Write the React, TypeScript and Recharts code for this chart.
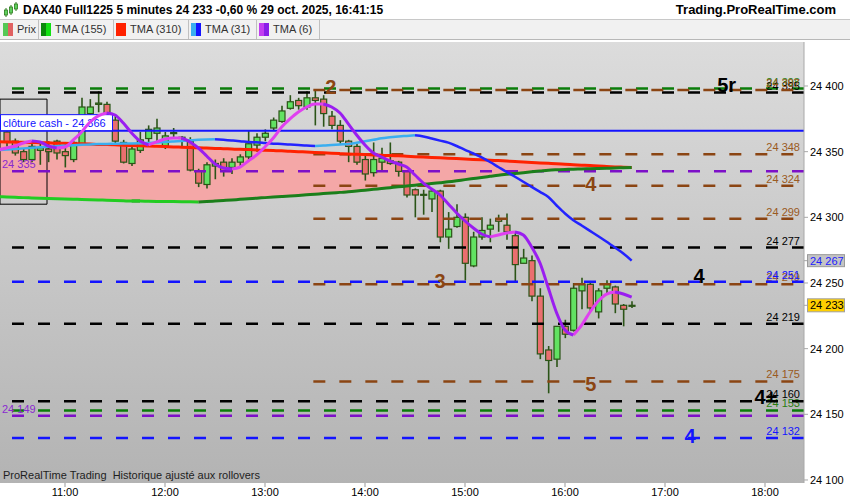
import React from 'react';
import {
  ComposedChart,
  Bar,
  Line,
  Area,
  XAxis,
  YAxis,
  ReferenceLine,
  ReferenceArea,
  ReferenceDot,
} from 'recharts';

const FONT = '"Liberation Sans", Arial, sans-serif';

// bar index 0 is the 10:25 candle; the row at -1 only carries the averages (left edge)
const firstIndex = -1;
const firstBar = '10:25';

const opens = [null,
  24365, 24358, 24350, 24344, 24351, 24352, 24358, 24350, 24344, 24356,
  24379, 24386, 24386, 24374, 24357, 24341, 24351, 24360, 24364, 24354,
  24364, 24360, 24358, 24335, 24325, 24339, 24342, 24338, 24342, 24346,
  24355, 24361, 24368, 24373, 24383, 24389, 24384, 24391, 24390, 24377,
  24370, 24358, 24354, 24344, 24334, 24342, 24343, 24342, 24335, 24321,
  24317, 24314, 24320, 24285, 24293, 24300, 24263, 24285, 24291, 24299,
  24294, 24286, 24265, 24267, 24240, 24199, 24192, 24217, 24214, 24244,
  24249, 24228, 24246, 24247, 24233, 24233];
const highs = [null,
  24368, 24360, 24352, 24356, 24356, 24358, 24359, 24356, 24358, 24391,
  24390, 24396, 24388, 24377, 24359, 24355, 24365, 24370, 24375, 24365,
  24368, 24362, 24361, 24337, 24342, 24344, 24345, 24345, 24348, 24366,
  24364, 24367, 24376, 24385, 24393, 24391, 24396, 24397, 24393, 24381,
  24374, 24359, 24356, 24348, 24357, 24353, 24357, 24343, 24336, 24322,
  24321, 24322, 24321, 24304, 24310, 24303, 24289, 24300, 24299, 24302,
  24303, 24288, 24276, 24271, 24246, 24202, 24217, 24222, 24250, 24254,
  24250, 24246, 24252, 24248, 24234, 24236];
const lows = [null,
  24354, 24347, 24342, 24342, 24340, 24342, 24344, 24338, 24342, 24355,
  24377, 24380, 24372, 24356, 24341, 24339, 24349, 24357, 24358, 24352,
  24360, 24353, 24335, 24323, 24322, 24329, 24331, 24333, 24338, 24344,
  24350, 24358, 24366, 24372, 24382, 24382, 24382, 24370, 24369, 24367,
  24356, 24342, 24340, 24328, 24331, 24335, 24340, 24331, 24315, 24300,
  24302, 24304, 24281, 24276, 24292, 24252, 24262, 24283, 24281, 24289,
  24283, 24250, 24265, 24236, 24192, 24166, 24186, 24208, 24213, 24230,
  24228, 24223, 24242, 24227, 24217, 24231];
const closes = [null,
  24357, 24349, 24344, 24354, 24353, 24350, 24349, 24347, 24357, 24384,
  24384, 24387, 24375, 24358, 24342, 24352, 24359, 24367, 24368, 24362,
  24364.5, 24361, 24336, 24326, 24340, 24341, 24335, 24342, 24346, 24356,
  24361, 24364, 24374, 24381, 24388, 24385, 24391, 24389, 24379, 24370,
  24358, 24354, 24342, 24333, 24344, 24345, 24341, 24335, 24317, 24317,
  24317.5, 24320, 24285, 24291, 24300, 24265, 24285, 24290, 24294, 24297,
  24289, 24264, 24269, 24240, 24196, 24191, 24217, 24211, 24246, 24249,
  24231, 24244, 24249, 24234, 24230, 24233];

const tma6 = [24351.5,
  24352.8, 24354.3, 24356.6, 24358.1, 24357.4, 24354.3, 24352.8, 24353.6, 24358.9, 24365,
  24372.6, 24377.2, 24379.4, 24377.9, 24371.8, 24364.2, 24358.1, 24355.1, 24357.4, 24359.6,
  24360.4, 24360.4, 24357.4, 24352.8, 24346.7, 24340.6, 24337.6, 24336.8, 24338.3, 24342.9,
  24347.5, 24353.6, 24360.4, 24368.8, 24374.9, 24380.2, 24384, 24386.3, 24386.3, 24384,
  24379.4, 24371.1, 24362.7, 24355.1, 24349, 24345.9, 24342.9, 24340.6, 24338.3, 24332.2,
  24326.1, 24321.6, 24317, 24310.2, 24303.3, 24297.2, 24291.9, 24287.3, 24285.1, 24286.6,
  24288.1, 24288.9, 24286.6, 24277.4, 24265.2, 24246.2, 24227.2, 24214.2, 24210.4, 24218,
  24227.9, 24236.3, 24241.6, 24243.1, 24241.6, 24239.3];
const tma31 = [24351.2,
  24351.6, 24352, 24352.5, 24352.9, 24353.3, 24353.7, 24354.2, 24354.5, 24354.8, 24355.2,
  24355.5, 24355.8, 24355.9, 24356.1, 24356.2, 24356.3, 24356.4, 24356.6, 24356.9, 24357.4,
  24357.8, 24358.2, 24358.6, 24359, 24359.3, 24359.5, 24359, 24358.5, 24358, 24357.4,
  24357.1, 24356.6, 24356.1, 24355.8, 24355.4, 24355, 24354.6, 24354.4, 24354.6, 24355.1,
  24355.5, 24355.8, 24356.8, 24357.9, 24359, 24360.2, 24360.9, 24361.5, 24362, 24362.5,
  24361.6, 24360, 24358.4, 24356.9, 24354.3, 24351.4, 24348.6, 24345.6, 24342.1, 24338.3,
  24334.5, 24330.9, 24327.1, 24323.2, 24319.4, 24315.5, 24309, 24302.9, 24297.8, 24293.8,
  24289.7, 24285.6, 24281.4, 24277, 24272.5, 24267];
const tma310 = [24357.5,
  24357.4, 24357.3, 24357.1, 24357, 24356.8, 24356.7, 24356.4, 24356.4, 24356.2, 24356,
  24355.8, 24355.5, 24355.4, 24355.2, 24354.9, 24354.7, 24354.5, 24354.3, 24354.1, 24353.9,
  24353.6, 24353.4, 24353.2, 24352.9, 24352.7, 24352.5, 24352.3, 24352, 24351.8, 24351.6,
  24351.3, 24351, 24350.8, 24350.6, 24350.3, 24350, 24349.7, 24349.4, 24349.1, 24348.8,
  24348.5, 24348.2, 24348, 24347.8, 24347.5, 24347.2, 24347, 24346.8, 24346.5, 24346.2,
  24345.9, 24345.6, 24345.3, 24345, 24344.7, 24344.4, 24344.1, 24343.8, 24343.5, 24343.2,
  24342.8, 24342.5, 24342.1, 24341.8, 24341.4, 24341.1, 24340.8, 24340.4, 24340.1, 24339.7,
  24339.4, 24339, 24338.7, 24338.4, 24338.2, 24337.9];
const tma155 = [24315.7,
  24315.5, 24315.3, 24315, 24314.8, 24314.6, 24314.4, 24314.2, 24314, 24313.8, 24313.6,
  24313.4, 24313.2, 24313, 24312.8, 24312.6, 24312.4, 24312.4, 24312.2, 24312.1, 24312.1,
  24312, 24311.9, 24311.8, 24311.7, 24312, 24312.4, 24312.8, 24313.2, 24313.7, 24314.1,
  24314.6, 24315, 24315.4, 24315.8, 24316.2, 24316.7, 24317.2, 24317.6, 24318.1, 24318.5,
  24319, 24319.4, 24320, 24320.7, 24321.3, 24322, 24322.6, 24323.2, 24323.9, 24324.5,
  24325.1, 24325.8, 24326.4, 24327, 24327.8, 24328.7, 24329.5, 24330.3, 24331.2, 24332.1,
  24332.8, 24333.4, 24334, 24334.7, 24335.3, 24335.9, 24336.2, 24336.4, 24336.7, 24336.8,
  24337, 24337.1, 24337.3, 24337.6, 24337.7, 24337.9];

// horizontal levels drawn on the chart
const greenLevels = [24398, 24153];
const blackLevels = [24395, 24277, 24219, 24160];
const brownLevels = [24397, 24348, 24324, 24299, 24249, 24175];
const blueLevels = [24251, 24132];
const purpleLevels = [24335, 24149];
const cashClose = 24366;

// wave counts written on the chart
const waveText = ['2', '3', '4', '5', '4', '5r', '4+', '4'];
const waveKind = ['brown', 'brown', 'brown', 'brown', 'black', 'black', 'black', 'blue'];
const waveBar = [38.9, 52, 70.1, 70.1, 83.1, 86.4, 91.1, 82];
const wavePrice = [24399, 24251.5, 24325.4, 24173, 24255.5, 24400.8, 24163, 24133.5];

const hourTicks = ['11:00', '12:00', '13:00', '14:00', '15:00', '16:00', '17:00', '18:00'];
const priceTicks = [24100, 24150, 24200, 24250, 24300, 24350, 24400];

const toMin = (s: string) => {
  const [h, m] = s.split(':').map(Number);
  return h * 60 + m;
};
const hourIdx = hourTicks.map((t) => (toMin(t) - toMin(firstBar)) / 5);

const fmt = (v: number) => {
  const s = String(Math.round(v));
  return s.slice(0, -3) + ' ' + s.slice(-3);
};

// split a series in rising / falling pieces for the two-colour averages
function splitTrend(vals: number[]) {
  const up: (number | null)[] = vals.map(() => null);
  const dn: (number | null)[] = vals.map(() => null);
  for (let k = 0; k < vals.length - 1; k++) {
    const t = vals[k + 1] >= vals[k] ? up : dn;
    t[k] = vals[k];
    t[k + 1] = vals[k + 1];
  }
  return [up, dn];
}

const [t6Up, t6Dn] = splitTrend(tma6);
const [t31Up, t31Dn] = splitTrend(tma31);
const [t155Up, t155Dn] = splitTrend(tma155);

const rows = tma6.map((_, k) => ({
  i: firstIndex + k,
  open: opens[k],
  high: highs[k],
  low: lows[k],
  close: closes[k],
  tma310: tma310[k],
  band: [tma155[k], tma310[k]],
  t6Up: t6Up[k],
  t6Dn: t6Dn[k],
  t31Up: t31Up[k],
  t31Dn: t31Dn[k],
  t155Up: t155Up[k],
  t155Dn: t155Dn[k],
}));

const lastClose = closes[closes.length - 1] as number;
const lastTma31 = Math.round(tma31[tma31.length - 1]);

const X_DOMAIN: [number, number] = [-0.8, 95.68];
const Y_DOMAIN: [number, number] = [24097.7, 24433.5];
const brownStart = 36.8;

const BROWN = '#8b4513';
const WICK = '#2b5417';

function Candle(props: any) {
  const { x, y, width, height, payload } = props;
  if (!payload || payload.high == null) return null;
  const { open, close, high, low } = payload;
  const k = high - low > 0 ? height / (high - low) : 0;
  const yOf = (v: number) => y + (high - v) * k;
  const cx = x + width / 2;
  const top = yOf(Math.max(open, close));
  const bot = yOf(Math.min(open, close));
  const up = close >= open;
  return (
    <g>
      <line x1={cx} x2={cx} y1={y} y2={y + height} stroke={WICK} strokeWidth={1.6} />
      <rect
        x={cx - 3}
        y={top}
        width={6}
        height={Math.max(bot - top, 1)}
        fill={up ? '#62e262' : '#ea6f6f'}
        stroke={WICK}
        strokeWidth={1.2}
      />
    </g>
  );
}

function LevelTag(props: any) {
  const vb = props.viewBox;
  if (!vb) return null;
  if (props.tagSide === 'left') {
    return (
      <text x={vb.x + 2} y={vb.y - 3} fill={props.tagColor} fontSize={11} fontFamily={FONT}>
        {props.tagText}
      </text>
    );
  }
  return (
    <text x={vb.x + vb.width - 4} y={vb.y - 3} fill={props.tagColor} fontSize={11} textAnchor="end" fontFamily={FONT}>
      {props.tagText}
    </text>
  );
}

function CashTag(props: any) {
  const vb = props.viewBox;
  if (!vb) return null;
  return (
    <g>
      <rect x={0.5} y={vb.y - 16} width={112} height={16} fill="#fff" stroke="#1414ff" />
      <text x={3} y={vb.y - 4} fill="#1414ff" fontSize={11} fontFamily={FONT}>
        {'clôture cash -  ' + fmt(cashClose)}
      </text>
    </g>
  );
}

function WaveMark(props: any) {
  const vb = props.viewBox;
  if (!vb) return null;
  return (
    <text
      x={vb.x + vb.width / 2}
      y={vb.y + vb.height / 2 + 7}
      textAnchor="middle"
      fontSize={20}
      fontWeight="bold"
      fill={props.markColor}
      fontFamily={FONT}
    >
      {props.markText}
    </text>
  );
}

function PriceTick(props: any) {
  const { x, y, payload } = props;
  const v = payload.value;
  if (v === lastClose) {
    return (
      <g>
        <rect x={x - 2.5} y={y - 6.5} width={37} height={13} fill="#ffd000" stroke="#a0a0a0" />
        <text x={x} y={y + 4} fontSize={11} fill="#000" fontFamily={FONT}>{fmt(v)}</text>
      </g>
    );
  }
  if (v === lastTma31) {
    return (
      <g>
        <rect x={x - 2.5} y={y - 6} width={37} height={12} fill="#c4c4c4" stroke="#9a9a9a" />
        <text x={x} y={y + 4} fontSize={11} fill="#2020ff" fontFamily={FONT}>{fmt(v)}</text>
      </g>
    );
  }
  return (
    <text x={x} y={y + 4} fontSize={11} fill="#000" fontFamily={FONT}>{fmt(v)}</text>
  );
}

const legendItems = [
  { name: 'Prix', left: 0, colors: ['#55c855', '#e06262'] },
  { name: 'TMA (155)', left: 38, colors: ['#0a870a', '#12e012'] },
  { name: 'TMA (310)', left: 113, colors: ['#ff2200', '#ff2200'] },
  { name: 'TMA (31)', left: 188, colors: ['#3aaef0', '#1414ff'] },
  { name: 'TMA (6)', left: 256, colors: ['#c23ef0', '#8a1ee8'] },
];

function Header() {
  return (
    <>
      <div style={{ position: 'absolute', left: 0, top: 0, width: 850, height: 19, borderBottom: '1px solid #c8c8c8' }}>
        <svg width={16} height={16} style={{ position: 'absolute', left: 3, top: 2 }}>
          <line x1={3} x2={3} y1={6} y2={15} stroke="#2b7a1a" />
          <rect x={1.5} y={8} width={3} height={5} fill="#5fd05f" stroke="#2b7a1a" strokeWidth={0.8} />
          <line x1={8} x2={8} y1={3} y2={13} stroke="#2b7a1a" />
          <rect x={6.5} y={5} width={3} height={6} fill="#5fd05f" stroke="#2b7a1a" strokeWidth={0.8} />
          <line x1={13} x2={13} y1={0} y2={9} stroke="#2b7a1a" />
          <rect x={11.5} y={2} width={3} height={5} fill="#5fd05f" stroke="#2b7a1a" strokeWidth={0.8} />
        </svg>
        <span style={{ position: 'absolute', left: 23, top: 3, fontSize: 12, fontWeight: 'bold', color: '#000', whiteSpace: 'nowrap' }}>
          DAX40 Full1225 5 minutes 24 233 -0,60 % 29 oct. 2025, 16:41:15
        </span>
        <span style={{ position: 'absolute', right: 14, top: 2, fontSize: 13, fontWeight: 'bold', color: '#000' }}>
          Trading.ProRealTime.com
        </span>
      </div>
      <div style={{ position: 'absolute', left: 0, top: 20, width: 850, height: 19, background: '#f1f1f1', borderBottom: '1px solid #b8b8b8' }}>
        {legendItems.map((it, k) => {
          const right = k < legendItems.length - 1 ? legendItems[k + 1].left : it.left + 63;
          return (
            <div key={it.name} style={{ position: 'absolute', left: it.left, top: 0, width: right - it.left, height: 19, borderRight: '1px solid #c0c0c0' }}>
              <div style={{ position: 'absolute', left: 3, top: 3, width: 5, height: 13, background: it.colors[0] }} />
              <div style={{ position: 'absolute', left: 8, top: 3, width: 5, height: 13, background: it.colors[1] }} />
              <span style={{ position: 'absolute', left: 17, top: 3, fontSize: 11, color: '#333', whiteSpace: 'nowrap' }}>{it.name}</span>
            </div>
          );
        })}
      </div>
    </>
  );
}

export default function App() {
  const waveColor: Record<string, string> = { brown: BROWN, black: '#000', blue: '#1414ff' };
  const dash = '12 14';
  return (
    <div style={{ position: 'absolute', left: 0, top: 0, width: 850, height: 500, background: '#fff', fontFamily: FONT, overflow: 'hidden' }}>
      <Header />
      <div style={{ position: 'absolute', left: 0, top: 42, width: 804, height: 441, background: 'linear-gradient(#dcdcdc, #b3b3b3)' }} />
      <div style={{ position: 'absolute', left: 0, top: 42 }}>
        <ComposedChart width={850} height={458} data={rows} margin={{ top: 0, right: 0, bottom: 0, left: 0 }}>
          <XAxis
            type="number"
            dataKey="i"
            domain={X_DOMAIN}
            allowDataOverflow
            ticks={hourIdx}
            interval={0}
            tickFormatter={(v: number) => hourTicks[hourIdx.indexOf(v)] ?? ''}
            height={17}
            axisLine={false}
            tickLine={{ stroke: '#999' }}
            tickSize={4}
            tickMargin={1}
            tick={{ fontSize: 11, fill: '#000', fontFamily: FONT }}
          />
          <YAxis
            orientation="right"
            type="number"
            domain={Y_DOMAIN}
            allowDataOverflow
            ticks={[...priceTicks, lastTma31, lastClose]}
            interval={0}
            width={46}
            axisLine={{ stroke: '#a8a8a8' }}
            tickLine={{ stroke: '#a8a8a8' }}
            tickSize={4}
            tickMargin={2}
            tick={(p: any) => <PriceTick {...p} />}
          />

          <Area
            dataKey="band"
            type="monotone"
            stroke="none"
            fill="#f4a7a7"
            fillOpacity={1}
            isAnimationActive={false}
          />

          {greenLevels.map((v) => (
            <ReferenceLine key={'g' + v} y={v} stroke="#0a7d0a" strokeWidth={2.5} strokeDasharray={dash}
              label={<LevelTag tagText={fmt(v)} tagColor="#2a7d10" />} />
          ))}
          {blackLevels.map((v) => (
            <ReferenceLine key={'k' + v} y={v} stroke="#000" strokeWidth={2.5} strokeDasharray={dash}
              label={<LevelTag tagText={fmt(v)} tagColor="#000" />} />
          ))}
          {brownLevels.map((v) => (
            <ReferenceLine key={'b' + v} segment={[{ x: brownStart, y: v }, { x: X_DOMAIN[1], y: v }]}
              stroke={BROWN} strokeWidth={2.5} strokeDasharray={dash}
              label={<LevelTag tagText={fmt(v)} tagColor="#9a5a22" />} />
          ))}
          {blueLevels.map((v) => (
            <ReferenceLine key={'u' + v} y={v} stroke="#1414ff" strokeWidth={2.5} strokeDasharray={dash}
              label={<LevelTag tagText={fmt(v)} tagColor="#1414ff" />} />
          ))}
          {purpleLevels.map((v) => (
            <ReferenceLine key={'p' + v} y={v} stroke="#7d10c8" strokeWidth={2.5} strokeDasharray={dash}
              label={<LevelTag tagText={fmt(v)} tagColor="#8a2ad0" tagSide="left" />} />
          ))}

          <ReferenceArea x1={X_DOMAIN[0]} x2={4.84} y1={24310} y2={24390} fill="none" stroke="#000" strokeWidth={1} />

          <Line dataKey="tma310" type="monotone" stroke="#ff2200" strokeWidth={3} dot={false} isAnimationActive={false} />
          <Line dataKey="t155Up" type="monotone" stroke="#1b7f1b" strokeWidth={3} dot={false} isAnimationActive={false} />
          <Line dataKey="t155Dn" type="monotone" stroke="#22cc22" strokeWidth={3} dot={false} isAnimationActive={false} />
          <Line dataKey="t31Up" type="monotone" stroke="#3aaef0" strokeWidth={2.5} dot={false} isAnimationActive={false} />
          <Line dataKey="t31Dn" type="monotone" stroke="#2323ff" strokeWidth={2.5} dot={false} isAnimationActive={false} />

          <ReferenceLine y={cashClose} stroke="#1414ff" strokeWidth={2} label={<CashTag />} />

          <Bar
            dataKey={(d: any) => (d.high == null ? null : [d.low, d.high])}
            barSize={7}
            shape={(p: any) => <Candle {...p} />}
            isAnimationActive={false}
          />

          <Line dataKey="t6Up" type="monotone" stroke="#e040f0" strokeWidth={3} dot={false} isAnimationActive={false} />
          <Line dataKey="t6Dn" type="monotone" stroke="#9a1ef0" strokeWidth={3} dot={false} isAnimationActive={false} />

          {waveText.map((t, k) => (
            <ReferenceDot key={'w' + k} x={waveBar[k]} y={wavePrice[k]} r={1} fill="none" stroke="none"
              label={<WaveMark markText={t} markColor={waveColor[waveKind[k]]} />} />
          ))}
        </ComposedChart>
      </div>
      <div style={{ position: 'absolute', left: 3, top: 469, fontSize: 11, color: '#1e1e1e', whiteSpace: 'pre' }}>
        {'ProRealTime Trading  Historique ajusté aux rollovers'}
      </div>
    </div>
  );
}
